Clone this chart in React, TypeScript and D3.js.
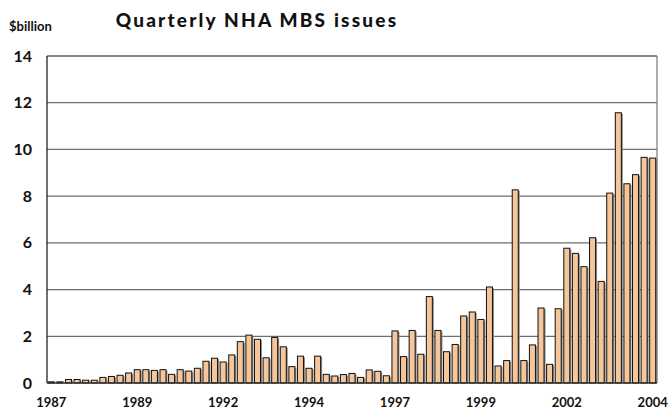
import * as d3 from "d3";

// quarterly issues, 1987Q1 .. 2004Q3, $billion
const quarters = d3.range(71).map((i) => `${1987 + Math.floor(i / 4)}Q${(i % 4) + 1}`);
const issues = [
  0.05, 0.05, 0.15, 0.15, 0.12, 0.12, 0.24, 0.28, 0.33, 0.43,
  0.57, 0.57, 0.54, 0.57, 0.37, 0.57, 0.51, 0.63, 0.93, 1.06,
  0.9, 1.2, 1.77, 2.05, 1.87, 1.08, 1.95, 1.55, 0.7, 1.15,
  0.63, 1.15, 0.37, 0.3, 0.36, 0.41, 0.24, 0.56, 0.5, 0.31,
  2.23, 1.13, 2.25, 1.23, 3.7, 2.25, 1.34, 1.65, 2.87, 3.04,
  2.72, 4.11, 0.73, 0.96, 8.27, 0.96, 1.63, 3.21, 0.8, 3.18,
  5.77, 5.55, 4.98, 6.22, 4.35, 8.13, 11.57, 8.53, 8.92, 9.66,
  9.63,
];
const yTicks = [0, 2, 4, 6, 8, 10, 12, 14];
const xLabelIdx = [0, 10, 20, 30, 40, 50, 60, 70];
const xLabels = ["1987", "1989", "1992", "1994", "1997", "1999", "2002", "2004"];

export default function App() {
  const width = 668;
  const height = 410;
  const margin = { top: 56, right: 11, bottom: 27, left: 47 };
  const plotW = width - margin.left - margin.right;
  const plotH = height - margin.top - margin.bottom;

  const x = d3.scaleBand<string>().domain(quarters).range([0, plotW]).paddingInner(0.3).paddingOuter(0.15);
  const y = d3.scaleLinear().domain([0, 14]).range([plotH, 0]);
  const font = "Lato, 'Open Sans', sans-serif";

  return (
    <svg
      width={width}
      height={height}
      style={{ position: "absolute", left: 0, top: 0, background: "#fff" }}
    >
      <text x={9} y={31} fontFamily={font} fontWeight={700} fontSize={13} fill="#111">
        $billion
      </text>
      <text
        x={257}
        y={27}
        textAnchor="middle"
        fontFamily={font}
        fontWeight={900}
        fontSize={19}
        letterSpacing={2.2}
        fill="#111"
      >
        Quarterly NHA MBS issues
      </text>
      <g transform={`translate(${margin.left},${margin.top})`}>
        {yTicks.slice(1, -1).map((t) => (
          <line key={t} x1={0} x2={plotW} y1={y(t)} y2={y(t)} stroke="#6e6e6e" strokeWidth={1.2} />
        ))}
        {yTicks.map((t) => (
          <text
            key={"l" + t}
            x={-15}
            y={y(t)}
            dy="0.35em"
            textAnchor="end"
            fontFamily={font}
            fontWeight={700}
            fontSize={16}
            fill="#111"
          >
            {t}
          </text>
        ))}
        {issues.map((v, i) => {
          const bx = x(quarters[i]) ?? 0;
          const bw = x.bandwidth();
          return (
            <g key={i}>
              <rect x={bx + 1.5} y={y(v) + 1} width={bw} height={plotH - y(v) - 1} fill="#8a8a8a" />
              <rect x={bx} y={y(v)} width={bw} height={plotH - y(v)} fill="#f4c699" stroke="#111" strokeWidth={1} />
            </g>
          );
        })}
        <line x1={0} x2={plotW} y1={0} y2={0} stroke="#111" strokeWidth={1.2} />
        <line x1={plotW} x2={plotW} y1={0} y2={plotH} stroke="#777" strokeWidth={1.2} />
        <line x1={0} x2={0} y1={0} y2={plotH} stroke="#111" strokeWidth={1.2} />
        <line x1={0} x2={plotW} y1={plotH} y2={plotH} stroke="#333" strokeWidth={1.5} />
        {xLabelIdx.map((idx, k) => (
          <text
            key={idx}
            x={(x(quarters[idx]) ?? 0) + x.bandwidth() / 2}
            y={plotH + 24}
            textAnchor="middle"
            fontFamily={font}
            fontWeight={700}
            fontSize={13}
            fill="#111"
          >
            {xLabels[k]}
          </text>
        ))}
      </g>
    </svg>
  );
}
